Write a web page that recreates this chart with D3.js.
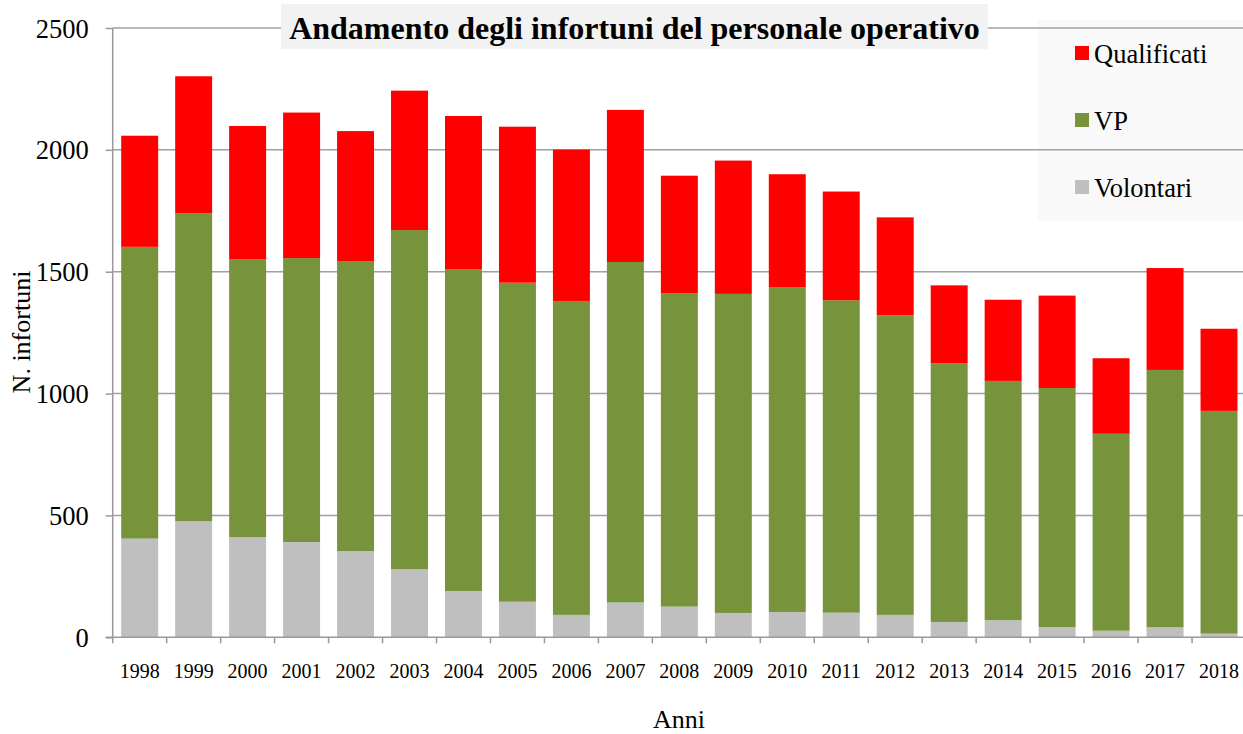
<!DOCTYPE html>
<html>
<head>
<meta charset="utf-8">
<script src="https://cdn.jsdelivr.net/npm/d3@7"></script>
<style>
  body { margin: 0; background: #fff; }
  svg text { font-family: "Liberation Serif", "Times New Roman", serif !important; fill: #000; }
</style>
</head>
<body>
<div id="chart"></div>
<script>
// data
const anni = ["1998","1999","2000","2001","2002","2003","2004","2005","2006","2007","2008",
              "2009","2010","2011","2012","2013","2014","2015","2016","2017","2018"]
const volontari   = [405, 477, 411, 391, 354, 279, 190, 146, 92, 143, 126, 100, 104, 101, 92, 63, 70, 42, 27, 41, 15]
const vp          = [1197, 1263, 1141, 1165, 1190, 1392, 1321, 1309, 1288, 1397, 1285, 1309, 1333, 1282, 1229, 1061, 982, 981, 808, 1056, 914]
const qualificati = [456, 562, 546, 597, 533, 572, 628, 640, 621, 624, 483, 547, 463, 446, 402, 320, 333, 379, 310, 418, 337]
const serie = ["Volontari", "VP", "Qualificati"]
const colori = {"Volontari": "#bfbfbf", "VP": "#77933c", "Qualificati": "#ff0000"}
const yTicks = [0, 500, 1000, 1500, 2000, 2500]

function chart() {
    const width = 1243
    const height = 734
    const left = 112.7, right = 1246, top = 28, bottom = 637.3

    const table = anni.map((a, i) => ({anno: a, Volontari: volontari[i], VP: vp[i], Qualificati: qualificati[i]}))
    const stack = d3.stack().keys(serie)(table)

    const x = d3.scaleBand()
        .domain(anni)
        .range([left, right])
        .paddingInner(0.315)
        .paddingOuter(0.1575)

    const y = d3.scaleLinear()
        .domain([0, 2500])
        .range([bottom, top])

    const svg = d3.select("#chart")
        .append("svg")
        .attr("width", width)
        .attr("height", height)

    // legend background (gridlines pass over it)
    svg.append("rect")
        .attr("x", 1038).attr("y", 20)
        .attr("width", 210).attr("height", 201)
        .attr("fill", "#f9f9f9")

    // gridlines
    svg.append("g")
        .selectAll("line")
        .data(yTicks.filter(d => d > 0))
        .join("line")
        .attr("x1", left).attr("x2", width)
        .attr("y1", d => y(d)).attr("y2", d => y(d))
        .attr("stroke", "#a0a0a0")
        .attr("stroke-width", 1.5)

    // title
    svg.append("rect")
        .attr("x", 281).attr("y", 4)
        .attr("width", 707).attr("height", 45)
        .attr("fill", "#f2f2f2")
    svg.append("text")
        .attr("x", 634.5).attr("y", 39)
        .attr("text-anchor", "middle")
        .style("font-size", "32px")
        .style("font-weight", "bold")
        .text("Andamento degli infortuni del personale operativo")

    // bars
    svg.append("g")
        .selectAll("g")
        .data(stack)
        .join("g")
        .attr("fill", d => colori[d.key])
        .selectAll("rect")
        .data(d => d)
        .join("rect")
        .attr("x", d => x(d.data.anno))
        .attr("width", x.bandwidth())
        .attr("y", d => y(d[1]))
        .attr("height", d => y(d[0]) - y(d[1]))

    // y axis
    const yAxis = svg.append("g")
        .attr("transform", `translate(${left},0)`)
        .call(d3.axisLeft(y).tickValues(yTicks).tickSize(7).tickPadding(17).tickFormat(d3.format("d")))
    yAxis.attr("font-family", null).attr("font-size", null)
    yAxis.selectAll("path, line").attr("stroke", "#999").attr("stroke-width", 1.5)
    yAxis.select(".domain").attr("d", `M0,${top}V${bottom}`)
    yAxis.selectAll("text")
        .style("font-size", "26.5px")
        .attr("dy", "0.34em")

    // x axis with ticks between categories
    const xAxis = svg.append("g")
        .attr("transform", `translate(0,${bottom})`)
    xAxis.append("line")
        .attr("x1", left - 7).attr("x2", width)
        .attr("stroke", "#999").attr("stroke-width", 1.5)
    xAxis.selectAll(".tk")
        .data(anni)
        .join("line")
        .attr("class", "tk")
        .attr("x1", d => x(d) - x.step() * x.paddingInner() / 2)
        .attr("x2", d => x(d) - x.step() * x.paddingInner() / 2)
        .attr("y1", 0).attr("y2", 6)
        .attr("stroke", "#999").attr("stroke-width", 1.5)
    xAxis.selectAll("text")
        .data(anni)
        .join("text")
        .attr("x", d => x(d) + x.bandwidth() / 2)
        .attr("y", 41)
        .attr("text-anchor", "middle")
        .style("font-size", "20px")
        .text(d => d)

    // axis titles
    svg.append("text")
        .attr("x", 679).attr("y", 728)
        .attr("text-anchor", "middle")
        .style("font-size", "26px")
        .text("Anni")
    svg.append("text")
        .attr("transform", "translate(30,332) rotate(-90)")
        .attr("text-anchor", "middle")
        .style("font-size", "26px")
        .text("N. infortuni")

    // legend
    const leg = svg.append("g")
        .selectAll("g")
        .data(["Qualificati", "VP", "Volontari"])
        .join("g")
        .attr("transform", (d, i) => `translate(1075,${46 + i * 67})`)
    leg.append("rect")
        .attr("width", 14).attr("height", 14)
        .attr("fill", d => colori[d])
    leg.append("text")
        .attr("x", 19).attr("y", 17)
        .style("font-size", "26.5px")
        .text(d => d)
}
chart()
</script>
</body>
</html>
